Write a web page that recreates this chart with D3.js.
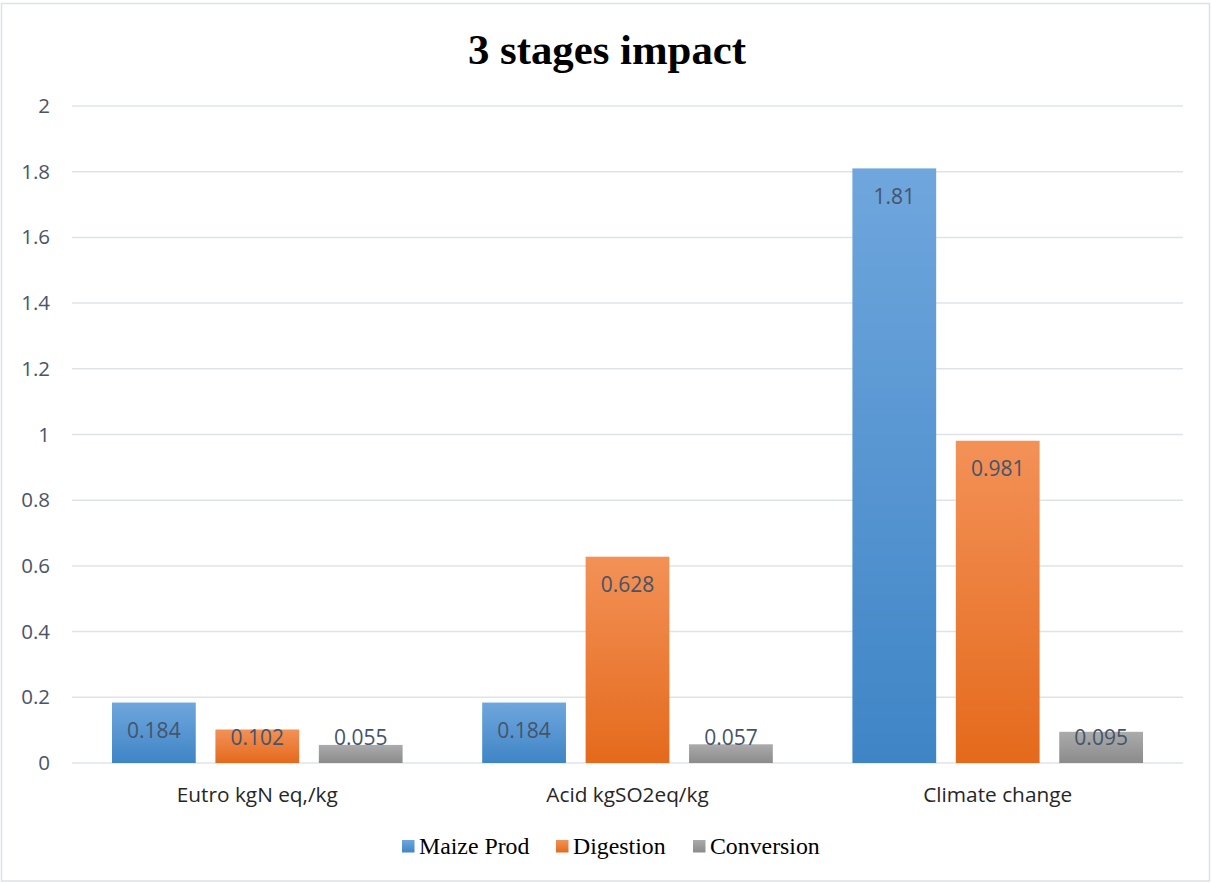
<!DOCTYPE html>
<html>
<head>
<meta charset="utf-8">
<script src="https://cdn.jsdelivr.net/npm/d3@7"></script>
<style>
  html, body { margin: 0; padding: 0; background: #fff; }
  svg { display: block; }
</style>
</head>
<body>
<svg id="chart" width="1212" height="883"></svg>
<script>
// Impact categories and per-stage values
const categories = ["Eutro kgN eq,/kg", "Acid kgSO2eq/kg", "Climate change"];
const seriesNames = ["Maize Prod", "Digestion", "Conversion"];
const maizeProd = [0.184, 0.184, 1.81];
const digestion = [0.102, 0.628, 0.981];
const conversion = [0.055, 0.057, 0.095];
const yTicks = [0, 0.2, 0.4, 0.6, 0.8, 1, 1.2, 1.4, 1.6, 1.8, 2];

const seriesValues = [maizeProd, digestion, conversion];
const gradients = [
  ["#6fa6dd", "#3f85c6"],
  ["#f39157", "#e46a1c"],
  ["#ababab", "#8b8b8b"]
];

const W = 1212, H = 883;
const margin = { left: 72, right: 29, top: 106, bottom: 120 };
const svg = d3.select("#chart");

// Outer frame
svg.append("rect")
  .attr("x", 1.5).attr("y", 3.5)
  .attr("width", W - 4).attr("height", H - 5.5)
  .attr("fill", "#fff").attr("stroke", "#dde1e8").attr("stroke-width", 1.5);

const defs = svg.append("defs");
gradients.forEach((g, i) => {
  const lg = defs.append("linearGradient")
    .attr("id", "grad" + i).attr("x1", 0).attr("y1", 0).attr("x2", 0).attr("y2", 1);
  lg.append("stop").attr("offset", "0%").attr("stop-color", g[0]);
  lg.append("stop").attr("offset", "100%").attr("stop-color", g[1]);
});

const x0 = d3.scaleBand()
  .domain(categories)
  .range([margin.left, W - margin.right])
  .paddingInner(0.215)
  .paddingOuter(0.108);

const x1 = d3.scaleBand()
  .domain(seriesNames)
  .range([0, x0.bandwidth()])
  .paddingInner(0.19);

const y = d3.scaleLinear().domain([0, 2]).range([H - margin.bottom, margin.top]);

// Gridlines
svg.append("g")
  .selectAll("line")
  .data(yTicks)
  .join("line")
  .attr("x1", margin.left).attr("x2", W - margin.right)
  .attr("y1", d => y(d)).attr("y2", d => y(d))
  .attr("stroke", "#dfe3e8").attr("stroke-width", 1.5);

// Y axis labels
const yAxis = d3.axisLeft(y).tickValues(yTicks).tickSize(0).tickPadding(0)
  .tickFormat(d => String(d));
const yg = svg.append("g").attr("transform", `translate(${margin.left - 22},0)`).call(yAxis);
yg.select(".domain").remove();
yg.selectAll("text")
  .attr("font-family", "'Open Sans', sans-serif")
  .attr("font-size", 20.5)
  .attr("fill", "#4a5568");

// Bars
const groups = svg.append("g")
  .selectAll("g")
  .data(categories)
  .join("g")
  .attr("transform", c => `translate(${x0(c)},0)`);

groups.selectAll("rect")
  .data((c, ci) => seriesNames.map((s, si) => ({ s, si, v: seriesValues[si][ci] })))
  .join("rect")
  .attr("x", d => x1(d.s))
  .attr("width", x1.bandwidth())
  .attr("y", d => y(d.v))
  .attr("height", d => y(0) - y(d.v))
  .attr("fill", d => `url(#grad${d.si})`);

// Value labels at the inside end of each bar
groups.selectAll("text")
  .data((c, ci) => seriesNames.map((s, si) => ({ s, si, v: seriesValues[si][ci] })))
  .join("text")
  .attr("x", d => x1(d.s) + x1.bandwidth() / 2)
  .attr("y", d => Math.min(y(d.v) + 28, y(0) - 25))
  .attr("dy", "0.35em")
  .attr("text-anchor", "middle")
  .attr("font-family", "'Open Sans', sans-serif")
  .attr("font-size", 21)
  .attr("fill", "#44546a")
  .text(d => String(d.v));

// Category axis
const xAxis = d3.axisBottom(x0).tickSize(0).tickPadding(0);
const xg = svg.append("g").attr("transform", `translate(0,${y(0)})`).call(xAxis);
xg.select(".domain").remove();
xg.selectAll("text")
  .attr("y", 38.5)
  .attr("dy", "0")
  .attr("font-family", "'Open Sans', sans-serif")
  .attr("font-size", 20.8)
  .attr("fill", "#262626");

// Title
svg.append("text")
  .attr("x", 607).attr("y", 64)
  .attr("text-anchor", "middle")
  .attr("font-family", "'Liberation Serif', 'Times New Roman', serif")
  .attr("font-weight", "bold")
  .attr("font-size", 42.8)
  .attr("fill", "#000")
  .text("3 stages impact");

// Legend
const legendX = [402, 556, 693];
const legend = svg.append("g")
  .selectAll("g")
  .data(seriesNames)
  .join("g")
  .attr("transform", (d, i) => `translate(${legendX[i]},840)`);
legend.append("rect")
  .attr("width", 12.5).attr("height", 12.5)
  .attr("fill", (d, i) => `url(#grad${i})`);
legend.append("text")
  .attr("x", 17).attr("y", 14)
  .attr("font-family", "'Liberation Serif', 'Times New Roman', serif")
  .attr("font-size", 23.8)
  .attr("fill", "#000")
  .text(d => d);
</script>
</body>
</html>
